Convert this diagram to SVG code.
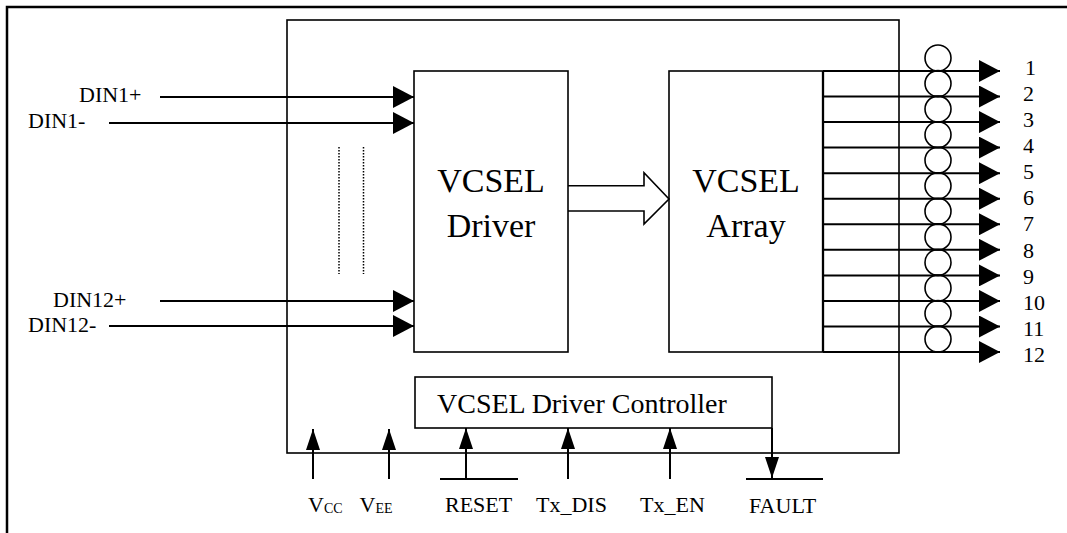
<svg xmlns="http://www.w3.org/2000/svg" width="1067" height="533" viewBox="0 0 1067 533">
<style>
text{font-family:"Liberation Serif","Times New Roman",serif;fill:#000}
.lbl{font-size:22px}
.big{font-size:34px;text-anchor:middle}
.ctl{font-size:28px}
.box{fill:none;stroke:#000;stroke-width:1.6}
.wire{fill:none;stroke:#000;stroke-width:2}
.wh{fill:none;stroke:#000;stroke-width:2;marker-end:url(#ah)}
.wv{fill:none;stroke:#000;stroke-width:2;marker-end:url(#av)}
.ring{fill:none;stroke:#000;stroke-width:1.6}
</style>
<defs>
<marker id="ah" markerUnits="userSpaceOnUse" markerWidth="21" markerHeight="22" refX="21" refY="11" orient="auto"><path d="M0,0 L21,11 L0,22 z" fill="#000"/></marker>
<marker id="av" markerUnits="userSpaceOnUse" markerWidth="21" markerHeight="14" refX="21" refY="7" orient="auto"><path d="M0,0 L21,7 L0,14 z" fill="#000"/></marker>
</defs>
<rect width="1067" height="533" fill="#fff"/>
<g id="frame"><path d="M7,533 L7,7 L1067,7" fill="none" stroke="#000" stroke-width="2.5"/></g>
<g id="module"><rect class="box" x="287" y="20" width="612" height="433"/></g>
<g id="driver"><rect class="box" x="414" y="71" width="154" height="281"/>
<text class="big" x="491" y="192">VCSEL</text><text class="big" x="491" y="237">Driver</text></g>
<g id="array"><rect class="box" x="669" y="71" width="154" height="281"/>
<line x1="823" y1="71" x2="823" y2="352" stroke="#000" stroke-width="2.3"/>
<text class="big" x="746" y="192">VCSEL</text><text class="big" x="746" y="237">Array</text></g>
<g id="controller"><rect class="box" x="415" y="377" width="357" height="51"/>
<text class="ctl" x="437" y="413">VCSEL Driver Controller</text></g>
<g id="fibers">
<circle class="ring" cx="938" cy="58" r="13"/><circle class="ring" cx="938" cy="83.6" r="13"/><circle class="ring" cx="938" cy="109.1" r="13"/><circle class="ring" cx="938" cy="134.7" r="13"/><circle class="ring" cx="938" cy="160.2" r="13"/><circle class="ring" cx="938" cy="185.8" r="13"/><circle class="ring" cx="938" cy="211.3" r="13"/><circle class="ring" cx="938" cy="236.9" r="13"/><circle class="ring" cx="938" cy="262.4" r="13"/><circle class="ring" cx="938" cy="288" r="13"/><circle class="ring" cx="938" cy="313.5" r="13"/><circle class="ring" cx="938" cy="339.1" r="13"/>
</g>
<g id="connectors">
<line class="wh" x1="160" y1="97" x2="414" y2="97"/>
<line class="wh" x1="109" y1="123" x2="414" y2="123"/>
<line class="wh" x1="160" y1="301" x2="414" y2="301"/>
<line class="wh" x1="109" y1="326" x2="414" y2="326"/>
<line x1="339" y1="147" x2="339" y2="274" stroke="#000" stroke-width="1.5" stroke-dasharray="1.5,1.5"/>
<line x1="363.5" y1="147" x2="363.5" y2="274" stroke="#000" stroke-width="1.5" stroke-dasharray="1.5,1.5"/>
<path d="M568,185.7 L644,185.7 L644,172.7 L669,199 L644,224 L644,211 L568,211" fill="none" stroke="#000" stroke-width="1.6"/>
<line class="wh" x1="823" y1="71" x2="1000" y2="71"/>
<line class="wh" x1="823" y1="96.5" x2="1000" y2="96.5"/>
<line class="wh" x1="823" y1="122.1" x2="1000" y2="122.1"/>
<line class="wh" x1="823" y1="147.6" x2="1000" y2="147.6"/>
<line class="wh" x1="823" y1="173.2" x2="1000" y2="173.2"/>
<line class="wh" x1="823" y1="198.7" x2="1000" y2="198.7"/>
<line class="wh" x1="823" y1="224.3" x2="1000" y2="224.3"/>
<line class="wh" x1="823" y1="249.8" x2="1000" y2="249.8"/>
<line class="wh" x1="823" y1="275.4" x2="1000" y2="275.4"/>
<line class="wh" x1="823" y1="300.9" x2="1000" y2="300.9"/>
<line class="wh" x1="823" y1="326.5" x2="1000" y2="326.5"/>
<line class="wh" x1="823" y1="352" x2="1000" y2="352"/>
<line class="wv" x1="313" y1="479" x2="313" y2="429"/>
<line class="wv" x1="389" y1="479" x2="389" y2="429"/>
<line class="wv" x1="466" y1="479" x2="466" y2="428"/>
<line class="wire" x1="440" y1="479" x2="518" y2="479"/>
<line class="wv" x1="568" y1="479" x2="568" y2="428"/>
<line class="wv" x1="670" y1="479" x2="670" y2="428"/>
<line class="wv" x1="772" y1="428" x2="772" y2="478"/>
<line class="wire" x1="746" y1="479" x2="823" y2="479"/>
</g>
<g id="labels">
<text class="lbl" x="79" y="102">DIN1+</text>
<text class="lbl" x="28" y="128">DIN1-</text>
<text class="lbl" x="53" y="306.5">DIN12+</text>
<text class="lbl" x="28" y="331.5">DIN12-</text>
<text class="lbl" x="1025" y="75">1</text>
<text class="lbl" x="1023" y="101">2</text>
<text class="lbl" x="1023" y="127">3</text>
<text class="lbl" x="1023" y="153">4</text>
<text class="lbl" x="1023" y="179">5</text>
<text class="lbl" x="1023" y="205">6</text>
<text class="lbl" x="1023" y="231">7</text>
<text class="lbl" x="1023" y="258">8</text>
<text class="lbl" x="1023" y="284">9</text>
<text class="lbl" x="1023" y="310">10</text>
<text class="lbl" x="1023" y="336">11</text>
<text class="lbl" x="1023" y="362">12</text>
<text class="lbl" x="308" y="511.5">V<tspan font-size="14" dy="1">CC</tspan></text>
<text class="lbl" x="359.5" y="511.5">V<tspan font-size="14" dy="1">EE</tspan></text>
<text class="lbl" x="445" y="511.5">RESET</text>
<text class="lbl" x="536" y="511.5">Tx_DIS</text>
<text class="lbl" x="640" y="511.5">Tx_EN</text>
<text class="lbl" x="749" y="513">FAULT</text>
</g>
</svg>
